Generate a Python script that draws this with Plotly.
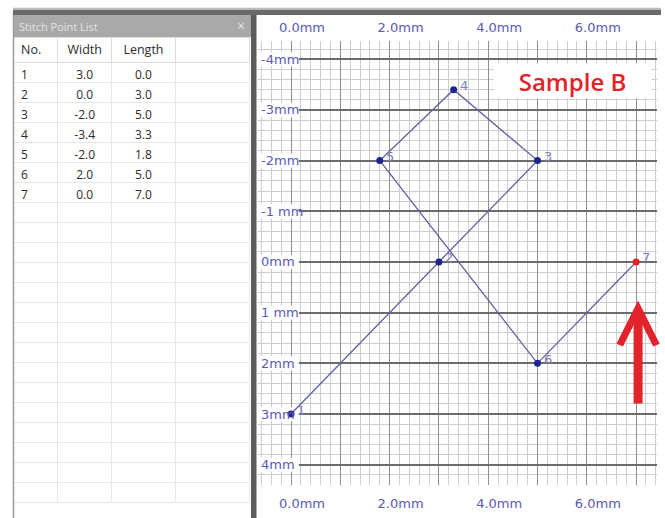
import plotly.graph_objects as go

# ---------------- data ----------------
point_no = [1, 2, 3, 4, 5, 6, 7]
width_mm = [3.0, 0.0, -2.0, -3.4, -2.0, 2.0, 0.0]
length_mm = [0.0, 3.0, 5.0, 3.3, 1.8, 5.0, 7.0]

x_tick_vals = [0, 1, 2, 3, 4, 5, 6, 7]
x_tick_text = ["0.0mm", "", "2.0mm", "", "4.0mm", "", "6.0mm", ""]
y_tick_vals = [-4, -3, -2, -1, 0, 1, 2, 3, 4]
y_tick_text = ["-4mm", "-3mm", "-2mm", "-1 mm", "0mm", "1 mm", "2mm", "3mm", "4mm"]

table_headers = ["No.", "Width", "Length", ""]
sample_label = "Sample B"
panel_title = "Stitch Point List"

# ---------------- helpers ----------------
W, H = 665, 518
def px(x):
    return x / W
def py(y):
    return 1 - y / H

NAVY = "#1f2590"
RED = "#e3232c"
LINE = "#5f5fa2"
LABEL = "#5a5ab2"
FONT = "DejaVu Sans"

fig = go.Figure()

# ---- stitch point table ----
n_rows = 22
def pad(col):
    return col + [""] * (n_rows - len(col))

fig.add_trace(go.Table(
    domain=dict(x=[px(13), px(250)], y=[0, py(37)]),
    columnwidth=[45, 54, 64, 74],
    header=dict(
        values=table_headers,
        height=25,
        fill_color="white",
        line=dict(color="#dcdcdc", width=1),
        align=["left", "center", "center", "center"],
        font=dict(family="Open Sans", size=12.5, color="#2a2a2a"),
    ),
    cells=dict(
        values=[pad([str(n) for n in point_no]),
                pad([f"{v:.1f}" for v in width_mm]),
                pad([f"{v:.1f}" for v in length_mm]),
                pad([])],
        height=20,
        fill_color="white",
        line=dict(color="#e6e6e6", width=1),
        align=["left", "center", "center", "center"],
        font=dict(family="Open Sans", size=12, color="#2a2a2a"),
    ),
))

# ---- stitch path ----
fig.add_trace(go.Scatter(
    x=length_mm, y=width_mm, mode="lines",
    line=dict(color=LINE, width=1.3),
    hoverinfo="skip", showlegend=False,
))
marker_colors = [NAVY] * (len(point_no) - 1) + [RED]
fig.add_trace(go.Scatter(
    x=length_mm, y=width_mm, mode="markers",
    marker=dict(color=marker_colors, size=7),
    showlegend=False,
))
# invisible trace carrying the top axis
fig.add_trace(go.Scatter(
    x=length_mm, y=width_mm, mode="markers", xaxis="x2",
    marker=dict(opacity=0), hoverinfo="skip", showlegend=False,
))

x_range = [(258 - 291) / 49.3, (657 - 291) / 49.3]
y_range = [4.40, -4.36]

tick_font = dict(family=FONT, size=13, color=LABEL)

fig.update_layout(
    width=W, height=H,
    margin=dict(l=0, r=0, t=0, b=0),
    paper_bgcolor="white",
    plot_bgcolor="white",
    showlegend=False,
    xaxis=dict(
        domain=[px(258), px(657)],
        range=x_range,
        tickmode="array", tickvals=x_tick_vals, ticktext=x_tick_text,
        showgrid=True, gridcolor="#8e8e8e", gridwidth=1.2,
        minor=dict(dtick=0.2, tick0=0, showgrid=True, gridcolor="#cdcdcd", gridwidth=1),
        zeroline=False, showline=False, ticks="",
        ticklabelshift=11, ticklabelstandoff=9,
        tickfont=tick_font, side="bottom",
        fixedrange=True,
    ),
    xaxis2=dict(
        overlaying="x", matches="x", side="top",
        range=x_range,
        tickmode="array", tickvals=x_tick_vals, ticktext=x_tick_text,
        showgrid=False, zeroline=False, showline=False, ticks="",
        ticklabelshift=11, ticklabelstandoff=5,
        tickfont=tick_font,
    ),
    yaxis=dict(
        domain=[py(485), py(41)],
        range=y_range,
        tickmode="array", tickvals=y_tick_vals, ticktext=y_tick_text,
        showticklabels=False,
        showgrid=True, gridcolor="#6c6c6c", gridwidth=2,
        minor=dict(dtick=0.2, tick0=0, showgrid=True, gridcolor="#cdcdcd", gridwidth=1),
        zeroline=False, showline=False, ticks="",
        fixedrange=True,
    ),
)

shapes = []
# white backgrounds behind the y labels
for v in y_tick_vals:
    shapes.append(dict(type="rect", xref="x", yref="y", layer="between",
                       x0=x_range[0], x1=0.16, y0=v - 0.14, y1=v + 0.14,
                       fillcolor="white", line=dict(width=0)))
# window chrome
shapes += [
    dict(type="rect", xref="paper", yref="paper", x0=px(13), x1=px(251), y0=py(37), y1=py(15),
         fillcolor="#a9a9a9", line=dict(width=0), layer="above"),
    dict(type="line", xref="paper", yref="paper", x0=px(13.5), x1=px(13.5), y0=0, y1=py(12),
         line=dict(color="#9a9a9a", width=1.5), layer="above"),
    dict(type="rect", xref="paper", yref="paper", x0=px(251), x1=px(256.5), y0=0, y1=py(10),
         fillcolor="#5c5c5c", line=dict(width=0), layer="above"),
    dict(type="rect", xref="paper", yref="paper", x0=px(13), x1=px(661), y0=py(15), y1=py(9.5),
         fillcolor="#6a6a6a", line=dict(width=0), layer="above"),
    dict(type="line", xref="paper", yref="paper", x0=px(13), x1=px(661), y0=py(8.5), y1=py(8.5),
         line=dict(color="#bdbdbd", width=1.5), layer="above"),
]
fig.update_layout(shapes=shapes)

annotations = []
# y axis labels, drawn inside the grid
for v, t in zip(y_tick_vals, y_tick_text):
    annotations.append(dict(x=x_range[0], y=v, xref="x", yref="y", text=t,
                            showarrow=False, xanchor="left", yanchor="middle",
                            xshift=1, font=tick_font))
# point number labels
for n, xv, yv in zip(point_no, length_mm, width_mm):
    annotations.append(dict(x=xv, y=yv, xref="x", yref="y", text=str(n),
                            showarrow=False, xanchor="left", yanchor="middle",
                            xshift=4, yshift=4,
                            font=dict(family=FONT, size=13, color="#7c7cb6")))
# panel title
annotations.append(dict(x=px(17), y=py(26), xref="paper", yref="paper", text=panel_title,
                        showarrow=False, xanchor="left", yanchor="middle",
                        font=dict(family="Open Sans", size=11, color="#e4e4e4")))
annotations.append(dict(x=px(241), y=py(25), xref="paper", yref="paper", text="×",
                        showarrow=False, xanchor="center", yanchor="middle",
                        font=dict(family="Open Sans", size=14, color="#e4e4e4")))
# sample label
annotations.append(dict(x=px(572), y=py(81), xref="paper", yref="paper", text=sample_label,
                        showarrow=False, xanchor="center", yanchor="middle",
                        width=155, height=32, bgcolor="white",
                        font=dict(family="Open Sans", size=24, color=RED, weight=600)))
# red arrow pointing to point 7
annotations.append(dict(x=7.04, y=0.76, xref="x", yref="y",
                        ax=7.04, ay=2.82, axref="x", ayref="y",
                        text="", showarrow=True, arrowhead=5, arrowsize=0.8,
                        arrowwidth=9, arrowcolor=RED))
fig.update_layout(annotations=annotations)

fig.write_html(
    "out.html",
    config={"displayModeBar": False},
    post_script="document.body.style.margin='0';document.body.style.overflow='hidden';",
)
